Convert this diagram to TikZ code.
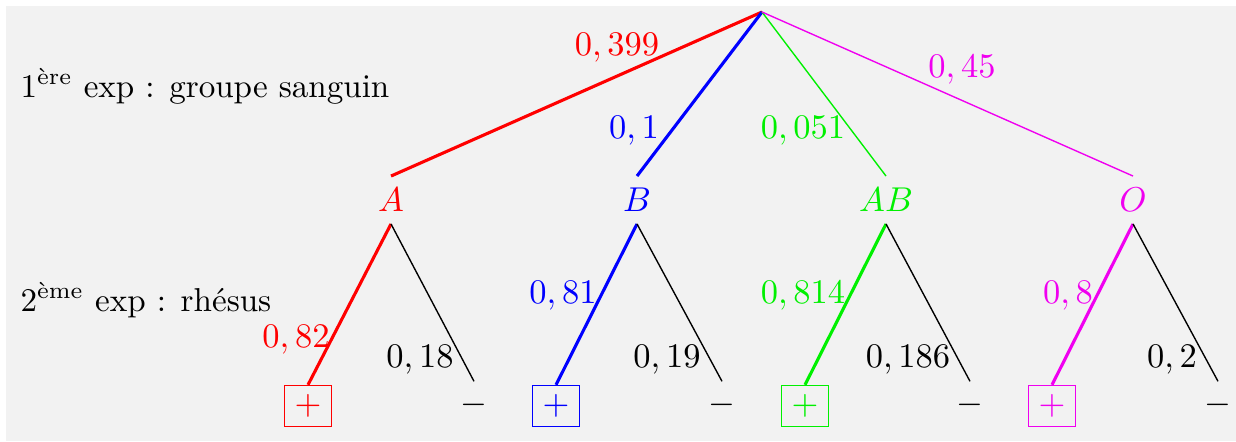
\documentclass[tikz,border=0pt]{standalone}
\usepackage{amsmath}
\usepackage{fontspec}
\definecolor{bgc}{RGB}{242,242,242}
\definecolor{cred}{RGB}{255,0,0}
\definecolor{cblue}{RGB}{0,0,255}
\definecolor{cgreen}{RGB}{0,240,0}
\definecolor{cmag}{RGB}{240,0,240}
\begin{document}
\begin{tikzpicture}[x=0.29pt,y=-0.29pt,
  lvl/.style={inner sep=0.333em},
  plusbox/.style={draw,inner xsep=3pt,inner ysep=2.6pt},
  lab/.style={anchor=base,inner sep=0pt},
  heavy/.style={line width=0.9pt},
  light/.style={line width=0.4pt}]
\useasboundingbox (0,0) rectangle (1236,441);
\fill[bgc] (6,6) rectangle (1236,441);
% left texts
\node[anchor=base west,inner sep=0pt,scale=0.96] (t1) at (20,97) {1$^{\text{ère}}$ exp : groupe sanguin};
\node[anchor=base west,inner sep=0pt,scale=0.96] (t2) at (20,311) {2$^{\text{ème}}$ exp : rhésus};
% root
\coordinate (root) at (762,12);
% level 1
\node[lvl,cred] (A) at (391,200) {$A$};
\node[lvl,cblue] (B) at (637,200) {$B$};
\node[lvl,cgreen] (AB) at (886,200) {$AB$};
\node[lvl,cmag] (O) at (1133,200) {$O$};
\draw[cred,heavy] (root) -- (A.north);
\draw[cblue,heavy] (root) -- (B.north);
\draw[cgreen,light] (root) -- (AB.north);
\draw[cmag,light] (root) -- (O.north);
\node[lab,cred] (l1) at (617,55) {$0,399$};
\node[lab,cblue] (l2) at (634,138) {$0,1$};
\node[lab,cgreen] (l3) at (803,138) {$0,051$};
\node[lab,cmag] (l4) at (962,77) {$0,45$};
% level 2
\node[plusbox,cred] (Ap) at (308,406) {$+$};
\node[lvl] (Am) at (474,405) {$-$};
\node[plusbox,cblue] (Bp) at (556,406) {$+$};
\node[lvl] (Bm) at (722,405) {$-$};
\node[plusbox,cgreen] (ABp) at (805,406) {$+$};
\node[lvl] (ABm) at (970,405) {$-$};
\node[plusbox,cmag] (Op) at (1052,406) {$+$};
\node[lvl] (Om) at (1218,405) {$-$};
\draw[cred,heavy] (A.south) -- (Ap.north);
\draw[light] (A.south) -- (Am.north);
\draw[cblue,heavy] (B.south) -- (Bp.north);
\draw[light] (B.south) -- (Bm.north);
\draw[cgreen,heavy] (AB.south) -- (ABp.north);
\draw[light] (AB.south) -- (ABm.north);
\draw[cmag,heavy] (O.south) -- (Op.north);
\draw[light] (O.south) -- (Om.north);
\node[lab,cred] (m1) at (296,347) {$0,82$};
\node[lab] (m2) at (420,367) {$0,18$};
\node[lab,cblue] (m3) at (563,303) {$0,81$};
\node[lab] (m4) at (667,367) {$0,19$};
\node[lab,cgreen] (m5) at (803,303) {$0,814$};
\node[lab] (m6) at (908,367) {$0,186$};
\node[lab,cmag] (m7) at (1068,303) {$0,8$};
\node[lab] (m8) at (1172,367) {$0,2$};
\end{tikzpicture}
\end{document}
